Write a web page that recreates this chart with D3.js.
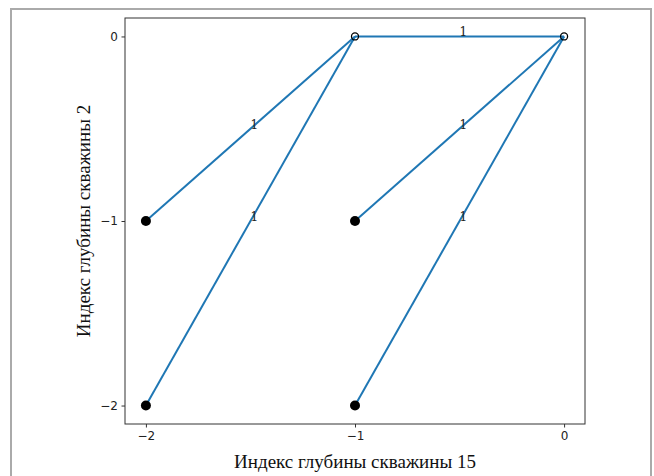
<!DOCTYPE html>
<html>
<head>
<meta charset="utf-8">
<script src="https://cdn.jsdelivr.net/npm/d3@7"></script>
<style>
  html, body { margin: 0; padding: 0; background: #fff; }
  svg { display: block; }
</style>
</head>
<body>
<svg id="chart" width="654" height="476"></svg>
<script>
// Well-depth index graph: nodes are (depth index in well 15, depth index in well 2)
const nodesX = [-2, -2, -1, -1, -1, 0];
const nodesY = [-1, -2, -1, -2, 0, 0];
const nodeFilled = [true, true, true, true, false, false];

// Edges as pairs of node indices, with their weights
const edgeFrom = [0, 1, 4, 2, 3];
const edgeTo = [4, 4, 5, 5, 5];
const edgeWeights = [1, 1, 1, 1, 1];

const xTicks = [-2, -1, 0];
const yTicks = [0, -1, -2];
const xLabel = "Индекс глубины скважины 15";
const yLabel = "Индекс глубины скважины 2";

const svg = d3.select("#chart");

// figure frame
svg.append("rect")
  .attr("x", 11).attr("y", 9).attr("width", 640).attr("height", 480)
  .attr("fill", "none").attr("stroke", "#aaaaaa").attr("stroke-width", 2);

const m = { left: 125, right: 585, top: 18, bottom: 424 };
const x = d3.scaleLinear().domain([-2.1, 0.1]).range([m.left, m.right]);
const y = d3.scaleLinear().domain([0.1, -2.1]).range([m.top, m.bottom]);

// edges
const edges = edgeFrom.map((f, i) => ({ f, t: edgeTo[i], w: edgeWeights[i] }));
svg.append("g").selectAll("line").data(edges).join("line")
  .attr("x1", d => x(nodesX[d.f])).attr("y1", d => y(nodesY[d.f]))
  .attr("x2", d => x(nodesX[d.t])).attr("y2", d => y(nodesY[d.t]))
  .attr("stroke", "#1f77b4").attr("stroke-width", 2);

// nodes
const nodes = nodesX.map((v, i) => ({ x: v, y: nodesY[i], filled: nodeFilled[i] }));
svg.append("g").selectAll("circle").data(nodes).join("circle")
  .attr("cx", d => x(d.x)).attr("cy", d => y(d.y))
  .attr("r", d => d.filled ? 5 : 3.5)
  .attr("fill", d => d.filled ? "#000" : "none")
  .attr("stroke", "#000").attr("stroke-width", d => d.filled ? 0 : 1.3);

// edge weight labels, anchored at each edge midpoint
svg.append("g").selectAll("text").data(edges).join("text")
  .attr("x", d => x((nodesX[d.f] + nodesX[d.t]) / 2))
  .attr("y", d => y((nodesY[d.f] + nodesY[d.t]) / 2))
  .attr("text-anchor", "start")
  .attr("font-family", "DejaVu Serif, serif")
  .attr("font-size", 12)
  .attr("fill", "#222")
  .text(d => d.w);

// axes
const fmt = d => d3.format("d")(d).replace("-", "\u2212");
const xAxis = svg.append("g").attr("transform", `translate(0,${m.bottom})`)
  .call(d3.axisBottom(x).tickValues(xTicks).tickSize(3.5).tickPadding(3.5).tickFormat(fmt));
const yAxis = svg.append("g").attr("transform", `translate(${m.left},0)`)
  .call(d3.axisLeft(y).tickValues(yTicks).tickSize(3.5).tickPadding(3.5).tickFormat(fmt));
[xAxis, yAxis].forEach(a => {
  a.select(".domain").remove();
  a.selectAll("line").attr("stroke", "#333").attr("stroke-width", 1);
  a.selectAll("text").attr("font-family", "DejaVu Sans, sans-serif")
    .attr("font-size", 12).attr("fill", "#222");
});

// axes box
svg.append("rect")
  .attr("x", m.left).attr("y", m.top).attr("width", m.right - m.left).attr("height", m.bottom - m.top)
  .attr("fill", "none").attr("stroke", "#333").attr("stroke-width", 1);

// axis titles
svg.append("text")
  .attr("x", (m.left + m.right) / 2).attr("y", 468)
  .attr("text-anchor", "middle")
  .attr("font-family", "Liberation Serif, serif").attr("font-size", 19).attr("fill", "#111")
  .text(xLabel);
svg.append("text")
  .attr("transform", `translate(90,${(m.top + m.bottom) / 2}) rotate(-90)`)
  .attr("text-anchor", "middle")
  .attr("font-family", "Liberation Serif, serif").attr("font-size", 19).attr("fill", "#111")
  .text(yLabel);
</script>
</body>
</html>
